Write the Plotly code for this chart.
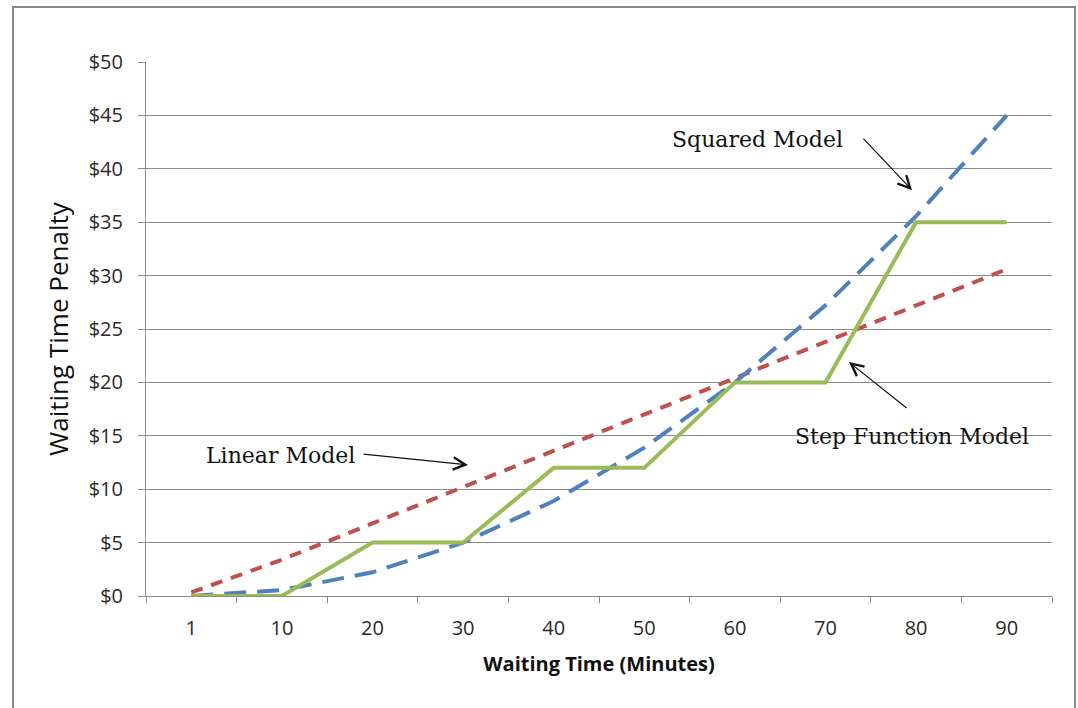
import plotly.graph_objects as go

categories = ["1", "10", "20", "30", "40", "50", "60", "70", "80", "90"]
linear_model = [0.34, 3.4, 6.8, 10.2, 13.6, 17.0, 20.4, 23.8, 27.2, 30.6]
squared_model = [0.006, 0.56, 2.22, 5.0, 8.89, 13.89, 20.0, 27.22, 35.56, 45.0]
step_model = [0, 0, 5, 5, 12, 12, 20, 20, 35, 35]
y_ticks = [0, 5, 10, 15, 20, 25, 30, 35, 40, 45, 50]

grid = "#8c8c8c"
fig = go.Figure()
fig.add_trace(go.Scatter(x=categories, y=linear_model, mode="lines", name="Linear Model",
                         line=dict(color="#C0504D", width=4, dash="12px,9px")))
fig.add_trace(go.Scatter(x=categories, y=squared_model, mode="lines", name="Squared Model",
                         line=dict(color="#4F81BD", width=4, dash="22px,11px")))
fig.add_trace(go.Scatter(x=categories, y=step_model, mode="lines", name="Step Function Model",
                         line=dict(color="#9BBB59", width=4)))

tick_font = dict(size=20, family="Open Sans, sans-serif", color="#2a2a2a")
fig.update_layout(
    width=1078, height=708,
    margin=dict(l=146, r=26, t=62, b=112),
    paper_bgcolor="white", plot_bgcolor="white",
    showlegend=False,
    font=dict(family="Open Sans, sans-serif", color="#222"),
    xaxis=dict(type="category", range=[-0.5, 9.5], showgrid=False,
               showline=True, linecolor=grid, linewidth=1,
               ticks="outside", tickson="boundaries", ticklen=6, tickcolor=grid,
               ticklabelstandoff=14,
               tickfont=tick_font,
               title=dict(text="<b>Waiting Time (Minutes)</b>", standoff=16,
                          font=dict(size=20, family="Open Sans, sans-serif", color="#111"))),
    yaxis=dict(range=[0, 50], tickvals=y_ticks, ticktext=[f"${v}" for v in y_ticks],
               showgrid=True, gridcolor=grid, gridwidth=1, zeroline=False,
               showline=True, linecolor=grid, linewidth=1,
               ticks="outside", ticklen=7, tickcolor=grid,
               ticklabelstandoff=11,
               tickfont=tick_font,
               title=dict(text="Waiting Time Penalty", standoff=12,
                          font=dict(size=26, family="Open Sans, sans-serif", color="#111"))),
)

fig.add_shape(type="rect", xref="paper", yref="paper", x0=-0.1468, x1=1.0254, y0=-0.3, y1=1.103,
              line=dict(color="#8a8a8a", width=2), layer="below")

ann_font = dict(family="DejaVu Serif, Liberation Serif, serif", size=22, color="#111")
arrow = dict(showarrow=True, text="", arrowhead=5, arrowsize=2.0, arrowwidth=1.2,
             arrowcolor="#111", standoff=0, startstandoff=0)

# Labels
fig.add_annotation(x=6.244, y=42.7, text="Squared Model", showarrow=False, font=ann_font)
fig.add_annotation(x=0.99, y=13.2, text="Linear Model", showarrow=False, font=ann_font)
fig.add_annotation(x=7.955, y=14.9, text="Step Function Model", showarrow=False, font=ann_font)
# Arrows
fig.add_annotation(x=7.955, y=38.0, ax=-50, ay=-53, **arrow)
fig.add_annotation(x=3.054, y=12.27, ax=-106, ay=-11, **arrow)
fig.add_annotation(x=7.26, y=21.9, ax=59, ay=47, **arrow)

fig.write_html("out.html")
